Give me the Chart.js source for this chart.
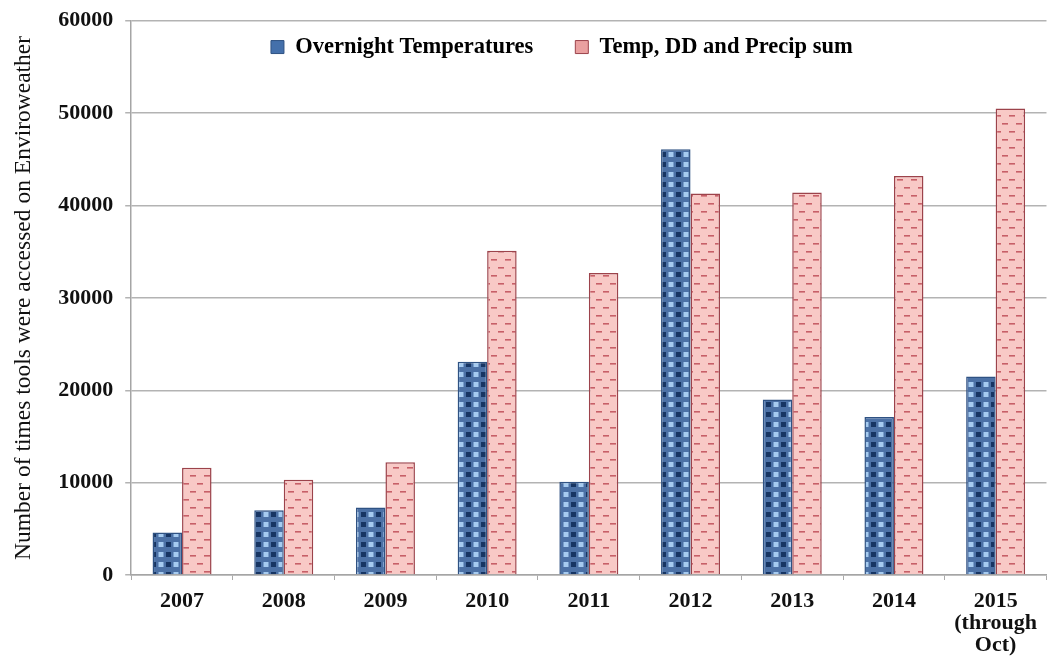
<!DOCTYPE html>
<html>
<head>
<meta charset="utf-8">
<script src="https://cdn.jsdelivr.net/npm/chart.js@4"></script>
<style>
  html, body { margin: 0; padding: 0; background: #fff; }
  #wrap { width: 1047px; height: 658px; }
</style>
</head>
<body>
<div id="wrap"><canvas id="chart" width="1047" height="658"></canvas></div>
<script>
// données
const years = ['2007', '2008', '2009', '2010', '2011', '2012', '2013', '2014', ['2015', '(through', 'Oct)']];
const overnightTemps = [4600, 7000, 7300, 23100, 10100, 46100, 19000, 17100, 21500];
const tempDdPrecip = [11600, 10300, 12200, 35100, 32700, 41300, 41400, 43200, 50500];
const yTicks = [0, 10000, 20000, 30000, 40000, 50000, 60000];

const serif = '"Liberation Serif", "DejaVu Serif", serif';

// motif à carreaux pour les barres bleues
function checkerPattern() {
    const c = document.createElement('canvas');
    c.width = 15; c.height = 10;
    const x = c.getContext('2d');
    x.fillStyle = '#4c71a6'; x.fillRect(0, 0, 15, 10);
    x.fillStyle = '#173563'; x.fillRect(1, 2, 5, 5);
    x.fillStyle = '#a6cbf0'; x.fillRect(8.5, 2, 5, 5);
    return x.createPattern(c, 'repeat');
}

// motif à tirets pour les barres roses
function dashPattern() {
    const c = document.createElement('canvas');
    c.width = 14; c.height = 16;
    const x = c.getContext('2d');
    x.fillStyle = '#f8c9c6'; x.fillRect(0, 0, 14, 16);
    x.fillStyle = '#c75f68';
    x.fillRect(1, 3, 6, 1.6);
    x.fillRect(8, 11, 6, 1.6);
    return x.createPattern(c, 'repeat');
}

// place la légende à l'intérieur de la zone du graphique, sur une ligne
const legendInside = {
    id: 'legendInside',
    beforeLayout(chart) {
        if (chart.legend) chart.legend.position = 'chartArea';
    },
    afterLayout(chart) {
        const lg = chart.legend;
        const area = chart.chartArea;
        if (!lg) return;
        const pad = lg.options.labels.padding;
        lg.left = area.left - 54;
        lg.right = area.right;
        lg.top = area.top + 15 - pad;
    }
};

const ctx = document.getElementById('chart').getContext('2d');

new Chart(ctx, {
    type: 'bar',
    data: {
        labels: years,
        datasets: [{
            label: 'Overnight Temperatures',
            data: overnightTemps,
            backgroundColor: checkerPattern(),
            borderColor: '#2f5283',
            borderWidth: 1.5,
            legendColor: '#4470ab'
        }, {
            label: 'Temp, DD and Precip sum',
            data: tempDdPrecip,
            backgroundColor: dashPattern(),
            borderColor: '#9c434b',
            borderWidth: 1.5,
            legendColor: '#eaa0a0'
        }]
    },
    plugins: [legendInside],
    options: {
        responsive: false,
        animation: false,
        layout: { padding: { top: 12, right: 0, left: 10, bottom: -8 } },
        datasets: {
            bar: { categoryPercentage: 0.58, barPercentage: 1.0 }
        },
        plugins: {
            legend: {
                position: 'top',
                align: 'center',
                labels: {
                    font: { family: serif, size: 22.5, weight: 'bold' },
                    color: '#111',
                    boxWidth: 13,
                    boxHeight: 13,
                    padding: 42,
                    generateLabels: function (chart) {
                        return chart.data.datasets.map(function (ds, i) {
                            return {
                                text: ds.label,
                                fillStyle: ds.legendColor,
                                strokeStyle: ds.borderColor,
                                lineWidth: 1,
                                datasetIndex: i,
                                hidden: false
                            };
                        });
                    }
                }
            },
            tooltip: { enabled: false }
        },
        scales: {
            x: {
                grid: {
                    offset: true,
                    drawOnChartArea: false,
                    drawTicks: true,
                    tickLength: 5,
                    color: '#aaa'
                },
                border: { color: '#a5a5a5', width: 1.5 },
                ticks: {
                    color: '#111',
                    font: { family: serif, size: 22, weight: 'bold', lineHeight: 1.0 },
                    padding: 10,
                    maxRotation: 0,
                    autoSkip: false
                }
            },
            y: {
                min: 0,
                max: 60000,
                afterBuildTicks: function (axis) {
                    axis.ticks = yTicks.map(function (v) { return { value: v }; });
                },
                grid: {
                    color: '#b3b3b3',
                    lineWidth: 1.5,
                    tickLength: 6
                },
                border: { color: '#a5a5a5', width: 1.5 },
                ticks: {
                    color: '#111',
                    font: { family: serif, size: 22, weight: 'bold', lineHeight: 0.8 },
                    padding: 12,
                    callback: function (v) { return String(v); }
                },
                title: {
                    display: true,
                    text: 'Number of times tools were accessed on Enviroweather',
                    color: '#111',
                    font: { family: serif, size: 23.5 },
                    padding: { top: 0, bottom: 8 }
                }
            }
        }
    }
});
</script>
</body>
</html>
